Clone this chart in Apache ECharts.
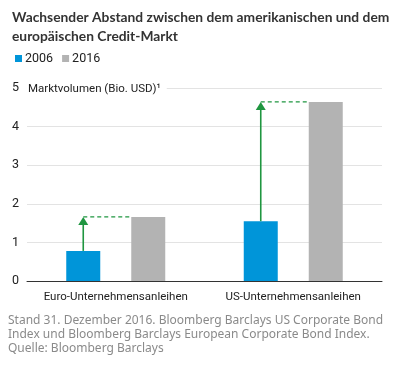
<!DOCTYPE html>
<html><head><meta charset="utf-8">
<script src="https://cdn.jsdelivr.net/npm/echarts@6/dist/echarts.min.js"></script>
<style>html,body{margin:0;padding:0;background:#fff}#c{width:400px;height:365px}</style>
</head><body><div id="c"></div>
<script>
var categories = ['Euro-Unternehmensanleihen', 'US-Unternehmensanleihen'];
var seriesNames = ['2006', '2016'];
var values2006 = [0.78, 1.55];
var values2016 = [1.66, 4.64];
var yTicks = [0, 1, 2, 3, 4, 5];

var BAR_W = 34, GAP = 31;
var chart = echarts.init(document.getElementById('c'));
var condFam = 'Roboto,sans-serif';
var arrowData = categories.map(function (c, i) { return [i, values2006[i], values2016[i]]; });

chart.setOption({
  animation: false,
  title: {
    text: 'Wachsender Abstand zwischen dem amerikanischen und dem\neuropäischen Credit-Markt',
    left: 7, top: 3,
    textStyle: { fontFamily: 'Lato,sans-serif', fontWeight: 'bold', fontSize: 13.8, color: '#333', lineHeight: 19 }
  },
  legend: {
    left: 10, top: 47, itemWidth: 7, itemHeight: 7, itemGap: 9,
    icon: 'rect',
    textStyle: { fontFamily: condFam, fontSize: 12.5, color: '#222', padding: [0,0,0,-2] },
    data: seriesNames
  },
  grid: { left: 27, right: 18, top: 88, bottom: 84 },
  xAxis: {
    type: 'category', data: categories,
    axisLine: { lineStyle: { color: '#333', width: 1 } },
    axisTick: { show: false },
    axisLabel: { interval: 0, fontFamily: condFam, fontSize: 11.5, color: '#222', margin: 10 }
  },
  yAxis: {
    type: 'value', min: 0, max: 5, interval: 1,
    name: 'Marktvolumen (Bio. USD)¹',
    nameLocation: 'end', nameGap: -1,
    nameTextStyle: { fontFamily: condFam, fontSize: 11.5, color: '#222', align: 'left', verticalAlign: 'middle', backgroundColor: '#fff', padding: [2, 6, 2, 1] },
    axisLine: { show: false }, axisTick: { show: false },
    axisLabel: { fontFamily: condFam, fontSize: 12.5, color: '#222', margin: 8,
      formatter: function (v) { return yTicks.indexOf(v) >= 0 ? String(v) : ''; } },
    splitLine: { lineStyle: { color: '#e3e3e3', width: 1 } }
  },
  series: [
    { name: seriesNames[0], type: 'bar', data: values2006, barWidth: BAR_W, barGap: (GAP / BAR_W * 100) + '%', itemStyle: { color: '#0095d9' }, z: 2 },
    { name: seriesNames[1], type: 'bar', data: values2016, barWidth: BAR_W, itemStyle: { color: '#b3b3b3' }, z: 2 },
    {
      type: 'custom', data: arrowData, z: 5, silent: true,
      renderItem: function (params, api) {
        var idx = api.value(0);
        var base = api.coord([idx, api.value(1)]);
        var top = api.coord([idx, api.value(2)]);
        var cx = base[0] - (BAR_W + GAP) / 2;
        var grayLeft = base[0] + GAP / 2;
        var green = '#1f9640';
        return {
          type: 'group',
          children: [
            { type: 'line', shape: { x1: cx, y1: base[1], x2: cx, y2: top[1] + 7 }, style: { stroke: green, lineWidth: 1.6 } },
            { type: 'polygon', shape: { points: [[cx - 5, top[1] + 8], [cx + 5, top[1] + 8], [cx, top[1]]] }, style: { fill: green } },
            { type: 'line', shape: { x1: cx, y1: top[1], x2: grayLeft, y2: top[1] }, style: { stroke: green, lineWidth: 1.4, lineDash: [4, 3] } }
          ]
        };
      }
    }
  ],
  graphic: [{
    type: 'text', left: 8, top: 314,
    style: {
      text: 'Stand 31. Dezember 2016. Bloomberg Barclays US Corporate Bond\nIndex und Bloomberg Barclays European Corporate Bond Index.\nQuelle: Bloomberg Barclays',
      font: '12px "Noto Sans",sans-serif', fill: '#8a8a8a', lineHeight: 14
    }
  }]
});
</script></body></html>
